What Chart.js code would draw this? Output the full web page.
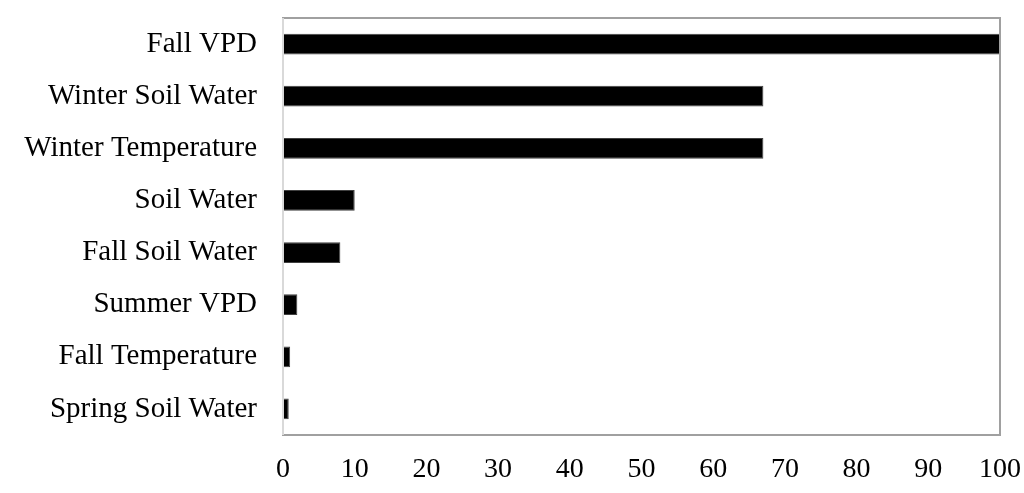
<!DOCTYPE html>
<html lang="en">
<head>
  <meta charset="UTF-8">
  <title>Variable importance</title>
  <script src="https://cdn.jsdelivr.net/npm/chart.js"></script>
  <style>
    html, body { margin: 0; padding: 0; background: #fff; }
    #wrap { width: 1024px; height: 493px; }
  </style>
</head>
<body>
  <div id="wrap"><canvas id="chart"></canvas></div>
  <script>
    // data
    const categories = ['Fall VPD', 'Winter Soil Water', 'Winter Temperature', 'Soil Water',
      'Fall Soil Water', 'Summer VPD', 'Fall Temperature', 'Spring Soil Water'];
    const importance = [100, 67, 67, 10, 8, 2, 1, 0.8];
    const xTicks = [0, 10, 20, 30, 40, 50, 60, 70, 80, 90, 100];

    const family = '"Liberation Serif", "Times New Roman", serif';

    // plot frame: grey box, lighter left edge
    const framePlugin = {
      id: 'frame',
      afterDraw(chart) {
        const { ctx, chartArea: a } = chart;
        ctx.save();
        ctx.strokeStyle = '#a0a0a0';
        ctx.lineWidth = 2;
        ctx.strokeRect(a.left, a.top, a.right - a.left, a.bottom - a.top);
        ctx.strokeStyle = '#d9d9d9';
        ctx.beginPath();
        ctx.moveTo(a.left, a.top);
        ctx.lineTo(a.left, a.bottom);
        ctx.stroke();
        ctx.restore();
      }
    };

    new Chart(document.getElementById('chart'), {
      type: 'bar',
      data: {
        labels: categories,
        datasets: [{
          data: importance,
          backgroundColor: '#000',
          borderColor: '#404040',
          borderWidth: 1,
          categoryPercentage: 1,
          barPercentage: 0.4
        }]
      },
      options: {
        indexAxis: 'y',
        responsive: true,
        maintainAspectRatio: false,
        animation: false,
        layout: { padding: { top: 18, right: 24, left: 0, bottom: 0 } },
        plugins: { legend: { display: false }, tooltip: { enabled: false } },
        scales: {
          x: {
            min: 0,
            max: 100,
            afterBuildTicks: s => { s.ticks = xTicks.map(v => ({ value: v })); },
            afterFit: s => { s.height = 58; s.paddingLeft = 0; s.paddingRight = 0; },
            grid: { display: false, drawTicks: false },
            border: { display: false },
            ticks: { color: '#000', font: { family, size: 28 }, padding: 18, maxRotation: 0 }
          },
          y: {
            afterFit: s => { s.width = 283; s.paddingTop = 0; s.paddingBottom = 0; },
            grid: { display: false, drawTicks: false },
            border: { display: false },
            ticks: { color: '#000', font: { family, size: 29 }, padding: 26 }
          }
        }
      },
      plugins: [framePlugin]
    });
  </script>
</body>
</html>
